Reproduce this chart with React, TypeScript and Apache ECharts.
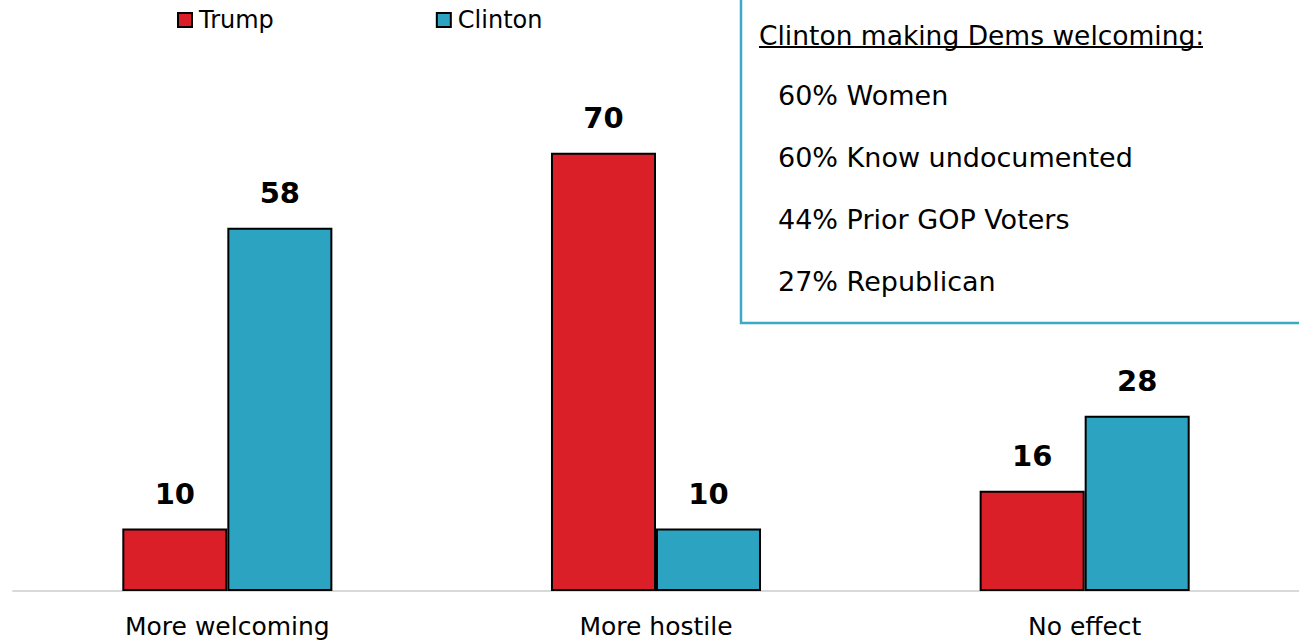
import React, { useEffect, useRef } from "react";
import * as echarts from "echarts";

const categories = ["More welcoming", "More hostile", "No effect"];
const trumpValues = [10, 70, 16];
const clintonValues = [58, 10, 28];
const boxTitle = "Clinton making Dems welcoming:";
const boxLines = ["60% Women", "60% Know undocumented", "44% Prior GOP Voters", "27% Republican"];

const RED = "#DA1F29";
const TEAL = "#2CA3C1";
const FONT = "DejaVu Sans";

export default function App() {
  const ref = useRef<HTMLDivElement>(null);
  useEffect(() => {
    if (!ref.current) return;
    const chart = echarts.init(ref.current, undefined, { renderer: "svg" });
    const graphics: any[] = [
      {
        type: "rect",
        shape: { x: 741, y: -10, width: 600, height: 333 },
        style: { fill: "#fff", stroke: "#3BA8C6", lineWidth: 2.5 },
        z: 10,
      },
      {
        type: "text",
        x: 759,
        y: 35,
        style: { text: boxTitle, font: `26.5px "${FONT}"`, fill: "#000", textVerticalAlign: "middle" },
        z: 11,
      },
      {
        type: "line",
        shape: { x1: 759, y1: 47, x2: 1203, y2: 47 },
        style: { stroke: "#000", lineWidth: 2 },
        z: 11,
      },
      ...boxLines.map((t, i) => ({
        type: "text",
        x: 778,
        y: 95 + i * 62,
        style: { text: t, font: `27px "${FONT}"`, fill: "#000", textVerticalAlign: "middle" },
        z: 11,
      })),
    ];
    const barStyle = (c: string) => ({ color: c, borderColor: "#000", borderWidth: 2 });
    const labelStyle = {
      show: true,
      position: "top",
      distance: 20,
      fontSize: 29,
      fontWeight: "bold",
      fontFamily: FONT,
      color: "#000",
    };
    chart.setOption({
      animation: false,
      textStyle: { fontFamily: FONT },
      legend: {
        top: 3,
        left: 172,
        itemGap: 162,
        itemWidth: 14,
        itemHeight: 14,
        textStyle: { fontSize: 24, fontFamily: FONT, color: "#000", padding: [0, 0, 0, 2] },
        data: [
          { name: "Trump", icon: "rect", itemStyle: barStyle(RED) },
          { name: "Clinton", icon: "rect", itemStyle: barStyle(TEAL) },
        ],
      },
      grid: { left: 13, right: 0, top: 90, bottom: 51, containLabel: false },
      xAxis: {
        type: "category",
        data: categories,
        axisLine: { show: true, lineStyle: { color: "#D9D9D9", width: 2 } },
        axisTick: { show: false },
        axisLabel: { fontSize: 25, fontFamily: FONT, color: "#000", margin: 23 },
      },
      yAxis: {
        type: "value",
        min: 0,
        max: 80,
        show: false,
        splitLine: { show: false },
      },
      series: [
        {
          name: "Trump",
          type: "bar",
          data: trumpValues,
          barGap: "0%",
          barCategoryGap: "51%",
          itemStyle: barStyle(RED),
          label: labelStyle,
        },
        {
          name: "Clinton",
          type: "bar",
          data: clintonValues,
          itemStyle: barStyle(TEAL),
          label: labelStyle,
        },
      ],
      graphic: graphics,
    });
    return () => chart.dispose();
  }, []);
  return <div ref={ref} style={{ width: 1299, height: 642, position: "absolute", left: 0, top: 0 }} />;
}
